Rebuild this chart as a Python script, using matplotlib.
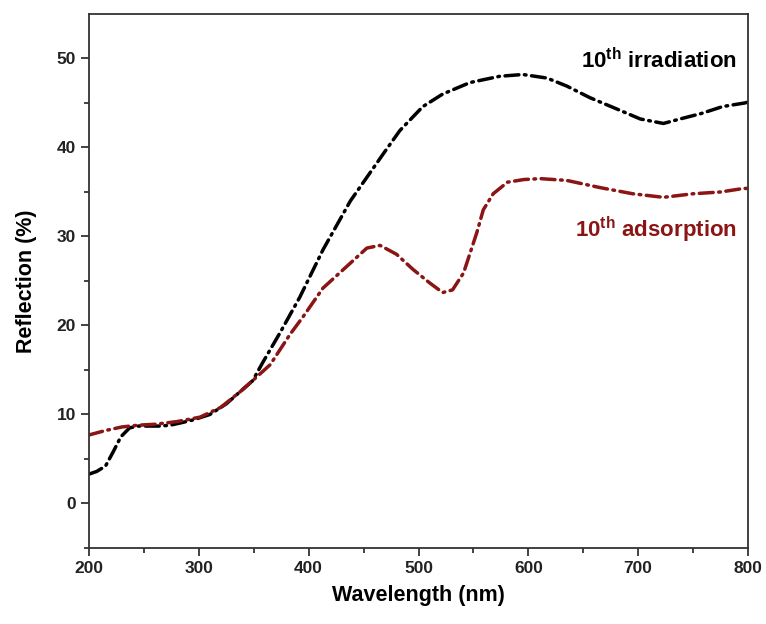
import matplotlib.pyplot as plt

plt.rcParams["font.family"] = ["Liberation Sans", "DejaVu Sans"]
plt.rcParams["font.weight"] = "bold"
plt.rcParams["lines.scale_dashes"] = False
plt.rcParams["mathtext.fontset"] = "custom"
plt.rcParams["mathtext.bf"] = "Liberation Sans:bold"
plt.rcParams["mathtext.rm"] = "Liberation Sans:bold"

# wavelength (nm) and reflection (%)
irr_wl = [200, 207, 215, 222, 229, 237, 245, 255, 265, 274, 285, 295, 310, 325, 337, 349,
          358, 374, 392, 413, 438, 468, 483, 504, 522, 547, 574, 595, 617, 635, 656, 681,
          702, 723, 738, 757, 777, 797, 800]
irr_val = [3.3, 3.6, 4.2, 5.8, 7.5, 8.5, 8.7, 8.7, 8.7, 8.8, 9.1, 9.4, 10.0, 11.2, 12.5, 13.8,
           15.8, 19.2, 23.2, 28.5, 34.0, 39.3, 41.9, 44.6, 46.0, 47.3, 48.0, 48.2, 47.8, 46.9, 45.6, 44.3,
           43.2, 42.7, 43.2, 43.8, 44.6, 45.0, 45.1]

ads_wl = [200, 215, 230, 245, 260, 280, 301, 320, 340, 365, 383, 395, 413, 429, 453, 465,
          480, 495, 510, 522, 531, 541, 553, 559, 568, 581, 596, 611, 635, 665, 695, 723,
          750, 775, 796, 800]
ads_val = [7.7, 8.2, 8.6, 8.8, 8.9, 9.2, 9.7, 10.8, 12.8, 15.6, 19.0, 21.0, 24.2, 26.0, 28.7, 29.0,
           28.0, 26.3, 24.8, 23.7, 24.0, 25.9, 30.4, 33.0, 34.8, 36.1, 36.4, 36.5, 36.3, 35.5, 34.8, 34.4,
           34.8, 35.0, 35.4, 35.4]

RED = "#8b1414"
dashdot = (0, (10, 4, 1.2, 4))

fig = plt.figure(figsize=(7.66, 6.24), dpi=100)
ax = fig.add_axes([0.1162, 0.1218, 0.8603, 0.8558])

ax.plot(irr_wl, irr_val, color="black", linewidth=2.5, linestyle=dashdot,
        dash_capstyle="round", solid_capstyle="round")
ax.plot(ads_wl, ads_val, color=RED, linewidth=2.5, linestyle=dashdot,
        dash_capstyle="round", solid_capstyle="round")

ax.set_xlim(200, 800)
ax.set_ylim(-5, 55)
ax.set_xticks([200, 300, 400, 500, 600, 700, 800])
ax.set_xticks([250, 350, 450, 550, 650, 750], minor=True)
ax.set_yticks([0, 10, 20, 30, 40, 50])
ax.set_yticks([-5, 5, 15, 25, 35, 45], minor=True)

ax.tick_params(which="both", direction="out", top=False, right=False,
               width=1.2, colors="#222222", labelsize=12.5)
ax.tick_params(which="major", length=6)
ax.tick_params(which="minor", length=3.5)
for lab in ax.get_xticklabels() + ax.get_yticklabels():
    lab.set_fontweight("bold")

for s in ax.spines.values():
    s.set_linewidth(1.3)
    s.set_color("#333333")

ax.set_xlabel("Wavelength (nm)", fontsize=15.5, fontweight="bold", labelpad=6)
ax.set_ylabel("Reflection (%)", fontsize=15.5, fontweight="bold", labelpad=14)

ax.text(790, 49.8, r"10$^{\mathbf{th}}$ irradiation", color="black", fontsize=16,
        fontweight="bold", ha="right", va="center")
ax.text(790, 30.7, r"10$^{\mathbf{th}}$ adsorption", color=RED, fontsize=16,
        fontweight="bold", ha="right", va="center")

fig.savefig("out.png", dpi=100)
